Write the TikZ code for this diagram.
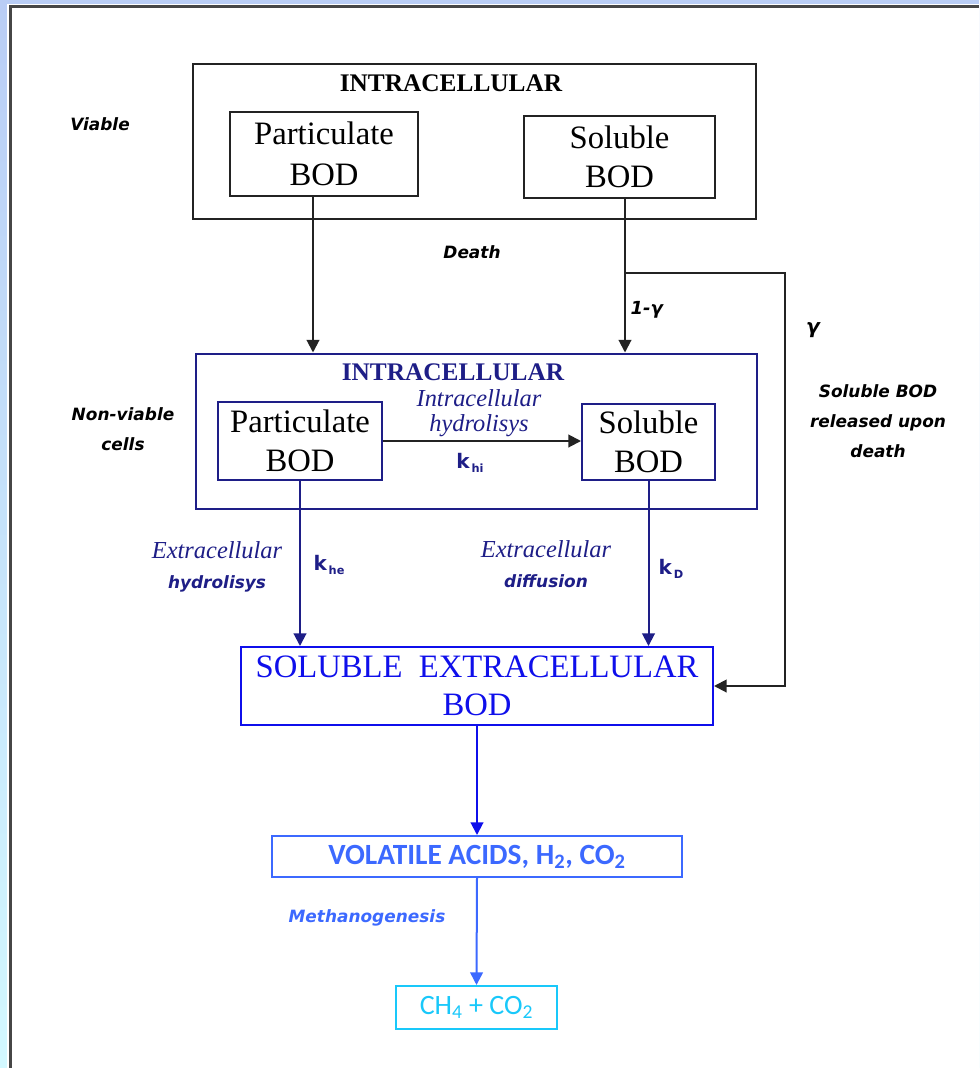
\documentclass[tikz,border=0pt]{standalone}
\usepackage{fontspec}
\setmainfont{Liberation Serif}
\newfontfamily\lblfont{DejaVu Sans}
\newfontfamily\calfont{Carlito}
\usetikzlibrary{arrows.meta}

\definecolor{navy}{RGB}{30,30,135}
\definecolor{sebodblue}{RGB}{15,15,235}
\definecolor{vfablue}{RGB}{60,105,255}
\definecolor{methcyan}{RGB}{25,200,250}
\definecolor{edge}{RGB}{35,35,35}
\definecolor{slideA}{RGB}{185,205,245}
\definecolor{slideB}{RGB}{210,248,255}
\definecolor{framegray}{RGB}{70,70,70}

\newcommand{\ksub}[1]{k{\fontsize{8.5}{9}\selectfont\raisebox{-2.5pt}{\,#1}}}

\tikzset{
  box/.style={draw=edge, line width=1.5pt, inner sep=0pt, align=center,
    font=\fontsize{24.5}{29}\selectfont},
  heading/.style={font=\bfseries\fontsize{19}{22}\selectfont},
  tag/.style={font=\lblfont\bfseries\itshape\fontsize{12.7}{22.5}\selectfont, align=center},
  hyd/.style={font=\itshape\fontsize{18.3}{19}\selectfont, text=navy, align=center},
  rate/.style={font=\lblfont\bfseries\fontsize{15}{16}\selectfont, text=navy},
  arr/.style={line width=1.5pt, -{Triangle[length=9.5pt,width=9.5pt]}},
}

\begin{document}
\begin{tikzpicture}[x=0.75pt,y=-0.75pt]
\useasboundingbox (0,0) rectangle (979,1068);
% slide background
\shade[top color=slideA,bottom color=slideB] (0,0) rectangle (979,1068);
\fill[white] (7,4) rectangle (979,1068);
\draw[framegray,line width=2.5pt] (10.3,1068) -- (10.3,6.5) -- (979,6.5);

% viable cells
\node[box,minimum width=563*0.75pt,minimum height=155*0.75pt] (viable) at (474.5,141.5) {};
\node[heading] (vtitle) at (451,83) {INTRACELLULAR};
\node[box,minimum width=188*0.75pt,minimum height=84*0.75pt] (vpart) at (324,153.5) {Particulate\\[2pt]BOD};
\node[box,minimum width=191*0.75pt,minimum height=82*0.75pt] (vsol) at (619.5,156.5) {Soluble\\BOD};
\node[tag] (viablelbl) at (100,124) {Viable};

% non-viable cells
\node[box,draw=navy,minimum width=561*0.75pt,minimum height=155*0.75pt] (nonviable) at (476.5,431) {};
\node[heading,text=navy] (ntitle) at (453,372) {INTRACELLULAR};
\node[box,draw=navy,minimum width=164*0.75pt,minimum height=78*0.75pt] (npart) at (300,441) {Particulate\\BOD};
\node[box,draw=navy,minimum width=133*0.75pt,minimum height=76*0.75pt] (nsol) at (648.5,442) {Soluble\\BOD};
\node[tag] (nonviablelbl) at (123,429) {Non-viable\\cells};

% extracellular
\node[box,draw=sebodblue,text=sebodblue,minimum width=472*0.75pt,minimum height=78*0.75pt] (sebod) at (477,686) {SOLUBLE\ \ EXTRACELLULAR\\BOD};
\node[box,draw=vfablue,text=vfablue,minimum width=410*0.75pt,minimum height=41*0.75pt,
  font=\calfont\bfseries\fontsize{22}{26}\selectfont] (vfa) at (477,856.5) {VOLATILE ACIDS, H\textsubscript{2}, CO\textsubscript{2}};
\node[box,draw=methcyan,text=methcyan,minimum width=161*0.75pt,minimum height=43*0.75pt,
  font=\calfont\fontsize{21}{25}\selectfont] (ch4) at (476.5,1007.5) {CH\textsubscript{4} + CO\textsubscript{2}};

% death
\coordinate (pdrop) at (313,300);
\coordinate (split) at (625,273);
\coordinate (bend) at (785,273);
\draw[arr,edge] (vpart.south -| pdrop) -- (pdrop |- nonviable.north);
\draw[arr,edge] (vsol.south -| split) -- (split |- nonviable.north);
\draw[arr,edge] (split) -- (bend) |- (sebod.east);
\node[tag] (deathlbl) at (472,252) {Death};
\node[tag,anchor=west,font=\lblfont\bfseries\itshape\fontsize{13.5}{16}\selectfont] (fraclbl) at (626,310) {1-γ};
\node[tag,font=\lblfont\bfseries\itshape\fontsize{15}{16}\selectfont] (gammalbl) at (813,330) {γ};
\node[tag] (releasedlbl) at (878,421) {Soluble BOD\\released upon\\death};

% hydrolysis and diffusion
\draw[arr,edge] (npart.east) -- (npart.east -| nsol.west);
\node[hyd] (inthyd) at (479,413) {Intracellular\\hydrolisys};
\node[rate] (khi) at (470,463) {\ksub{hi}};
\draw[arr,navy] (npart.south) -- (npart.south |- sebod.north);
\draw[arr,navy] (nsol.south) -- (nsol.south |- sebod.north);
\node[hyd,font=\itshape\fontsize{18.3}{22.5}\selectfont] (exthyd) at (217,567) {Extracellular\\{\lblfont\bfseries\itshape\fontsize{12.7}{22.5}\selectfont hydrolisys}};
\node[rate] (khe) at (329,565) {\ksub{he}};
\node[hyd,font=\itshape\fontsize{18.3}{22.5}\selectfont] (extdif) at (546,564) {Extracellular\\{\lblfont\bfseries\itshape\fontsize{12.7}{22.5}\selectfont diffusion}};
\node[rate] (kd) at (671,569) {\ksub{D}};

% methanogenesis
\draw[arr,sebodblue] (sebod.south) -- (vfa.north);
\draw[arr,vfablue] (vfa.south) -- (ch4.north);
\node[tag,text=vfablue] (methlbl) at (367,918) {Methanogenesis};
\end{tikzpicture}
\end{document}
